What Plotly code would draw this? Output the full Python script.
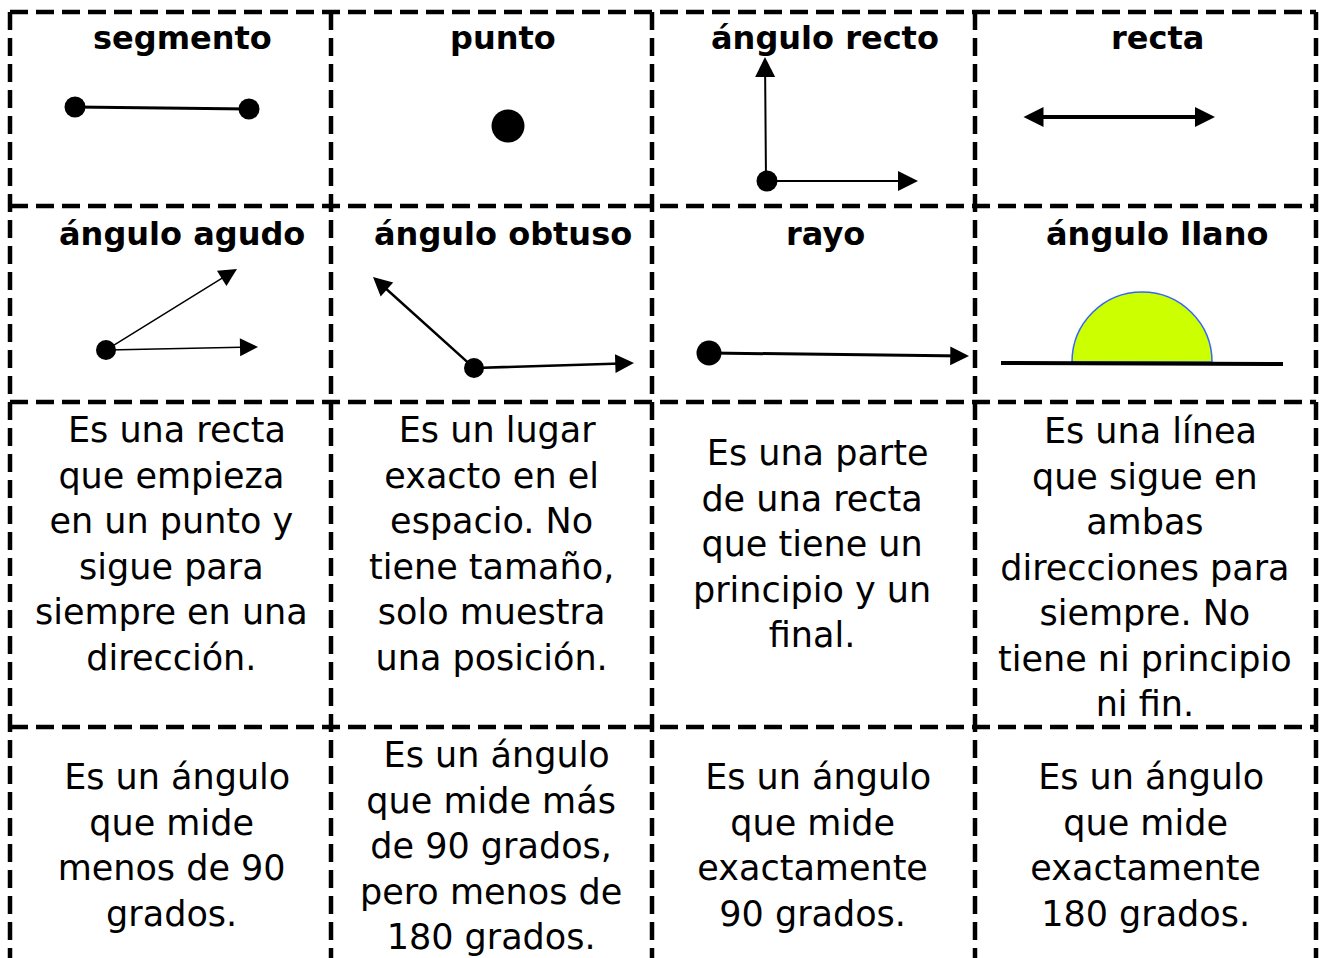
import plotly.graph_objects as go

# ---------------- data ----------------
titles = ["segmento", "punto", "ángulo recto", "recta",
          "ángulo agudo", "ángulo obtuso", "rayo", "ángulo llano"]

descriptions_row3 = [
    ["\u00a0Es una recta", "que empieza", "en un punto y", "sigue para", "siempre en una", "dirección."],
    ["\u00a0Es un lugar", "exacto en el", "espacio. No", "tiene tamaño,", "solo muestra", "una posición."],
    ["\u00a0Es una parte", "de una recta", "que tiene un", "principio y un", "final."],
    ["\u00a0Es una línea", "que sigue en", "ambas", "direcciones para", "siempre. No", "tiene ni principio", "ni fin."],
]
descriptions_row4 = [
    ["\u00a0Es un ángulo", "que mide", "menos de 90", "grados."],
    ["\u00a0Es un ángulo", "que mide más", "de 90 grados,", "pero menos de", "180 grados."],
    ["\u00a0Es un ángulo", "que mide", "exactamente", "90 grados."],
    ["\u00a0Es un ángulo", "que mide", "exactamente", "180 grados."],
]

# ---------------- layout positions (pixel space) ----------------
W, H = 1324, 958
grid_x = [10, 331, 652, 975, 1316]
grid_y = [12, 206, 402, 727]
title_x = [182, 503, 825, 1157]
title_y = [38, 234]
desc_x = [171, 491, 812, 1145]
row3_y = [544, 544, 544, 567]
row4_y = [845, 846, 845, 845]

FONT = "DejaVu Sans"

fig = go.Figure()

# dashed grid
shapes = []
dash = "18px,8px"
for gy in grid_y:
    shapes.append(dict(type="line", x0=grid_x[0], x1=grid_x[-1], y0=gy, y1=gy,
                       line=dict(color="black", width=4.5, dash=dash), layer="above"))
for gx in grid_x:
    shapes.append(dict(type="line", x0=gx, x1=gx, y0=grid_y[0], y1=H + 5,
                       line=dict(color="black", width=4.5, dash=dash), layer="above"))

# semicircle of ángulo llano (cubic bezier approximation)
cx, cy, r = 1142, 362, 70
k = 0.5523 * r
semi = (f"M {cx - r},{cy} C {cx - r},{cy - k} {cx - k},{cy - r} {cx},{cy - r} "
        f"C {cx + k},{cy - r} {cx + r},{cy - k} {cx + r},{cy} Z")
shapes.append(dict(type="path", path=semi, fillcolor="#CCFF00",
                   line=dict(color="#3366FF", width=1.5), layer="below"))
fig.update_layout(shapes=shapes)

# plain segments (no arrows)
seg_lines = [
    ([75, 249], [107, 109], 3),       # segmento
    ([1001, 1283], [363, 364], 4),    # ángulo llano base
]
for xs, ys, w in seg_lines:
    fig.add_trace(go.Scatter(x=xs, y=ys, mode="lines",
                             line=dict(color="black", width=w),
                             hoverinfo="skip", showlegend=False))

# points (dots)
dot_x = [75, 249, 508, 767, 106, 474, 709]
dot_y = [107, 109, 126, 181, 350, 368, 353]
dot_s = [21, 21, 33, 21, 20, 20, 25]
fig.add_trace(go.Scatter(x=dot_x, y=dot_y, mode="markers",
                         marker=dict(color="#000000", size=dot_s, opacity=1,
                                     line=dict(width=0)),
                         opacity=1, hoverinfo="skip", showlegend=False))

# arrows: (tail_x, tail_y, head_x, head_y, width, size, both)
arrows = [
    (766, 181, 765, 57, 2, 2.0, False),     # recto vertical
    (766, 181, 918, 181, 2, 2.0, False),    # recto horizontal
    (1022, 117, 1215, 117, 4, 1.0, True),   # recta
    (106, 350, 237, 269, 1.5, 2.4, False),  # agudo upper
    (106, 350, 258, 347, 1.5, 2.4, False),  # agudo lower
    (474, 368, 373, 277, 2.5, 1.5, False),  # obtuso left
    (474, 368, 634, 363, 2.5, 1.5, False),  # obtuso right
    (709, 353, 969, 356, 3, 1.25, False),   # rayo
]
annotations = []
for tx, ty, hx, hy, w, s, both in arrows:
    a = dict(x=hx, y=hy, ax=tx, ay=ty, xref="x", yref="y", axref="x", ayref="y",
             text="", showarrow=True, arrowhead=2, arrowsize=s, arrowwidth=w,
             arrowcolor="black", standoff=0, startstandoff=0)
    if both:
        a.update(arrowside="end+start", startarrowhead=2, startarrowsize=s)
    annotations.append(a)

# titles
for i, t in enumerate(titles):
    annotations.append(dict(x=title_x[i % 4], y=title_y[i // 4], xref="x", yref="y",
                            text=f"<b>{t}</b>", showarrow=False, xanchor="center",
                            yanchor="middle",
                            font=dict(family=FONT, size=32, color="black")))

# descriptions
for row_lines, row_y in ((descriptions_row3, row3_y), (descriptions_row4, row4_y)):
    for i, lines in enumerate(row_lines):
        annotations.append(dict(x=desc_x[i], y=row_y[i], xref="x", yref="y",
                                text="<br>".join(lines), showarrow=False,
                                xanchor="center", yanchor="middle", align="center",
                                font=dict(family=FONT, size=35, color="black")))

fig.update_layout(
    annotations=annotations,
    width=W, height=H, autosize=False,
    margin=dict(l=0, r=0, t=0, b=0, pad=0),
    paper_bgcolor="white", plot_bgcolor="white",
    xaxis=dict(range=[0, W], visible=False, fixedrange=True),
    yaxis=dict(range=[H, 0], visible=False, fixedrange=True),
    showlegend=False,
)

fig.write_html("out.html",
               config={"displayModeBar": False, "staticPlot": True},
               post_script="document.body.style.margin='0px';document.body.style.overflow='hidden';")
